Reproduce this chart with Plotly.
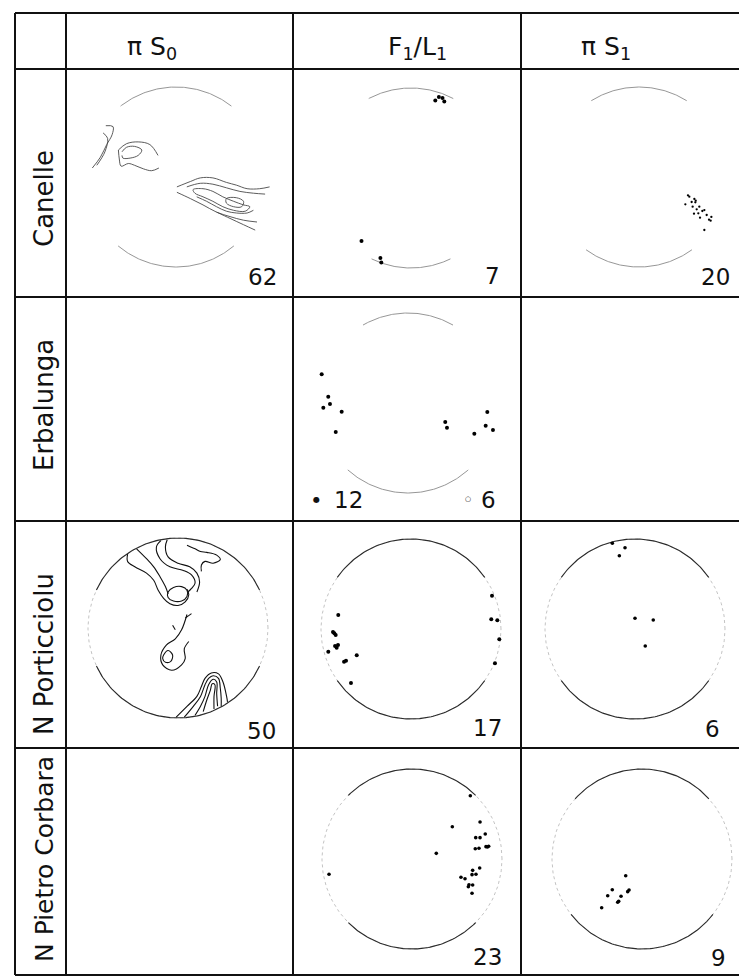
import numpy as np
import plotly.graph_objects as go

W, H = 739, 976
R = 90  # net radius in px

# ---------------- table text ----------------
col_titles = ["π S<sub>0</sub>", "F<sub>1</sub>/L<sub>1</sub>", "π S<sub>1</sub>"]
row_labels = ["Canelle", "Erbalunga", "N Porticciolu", "N Pietro Corbara"]
counts = {(0, 0): "62", (0, 1): "7", (0, 2): "20",
          (2, 0): "50", (2, 1): "17", (2, 2): "6",
          (3, 1): "23", (3, 2): "9"}
erb_filled_n = "12"
erb_open_n = "6"

# ---------------- point data (net coordinates, unit radius) ----------------
canelle_f1_x = [0.27, 0.31, 0.35, 0.37, -0.55, -0.34, -0.33]
canelle_f1_y = [0.86, 0.90, 0.89, 0.85, -0.70, -0.89, -0.94]

canelle_s1_x = [0.544, 0.559, 0.615, 0.630, 0.626, 0.515, 0.596, 0.641, 0.704, 0.726,
                0.611, 0.678, 0.804, 0.778, 0.796, 0.726, 0.585, 0.659, 0.752, 0.670]
canelle_s1_y = [-0.204, -0.219, -0.244, -0.263, -0.281, -0.304, -0.330, -0.359, -0.378, -0.367,
                -0.407, -0.452, -0.444, -0.474, -0.485, -0.589, -0.278, -0.404, -0.422, -0.330]

erbalunga_f1_x = [-0.959, -0.886, -0.867, -0.941, -0.737, -0.803, 0.414, 0.433, 0.737, 0.881, 0.863, 0.944]
erbalunga_f1_y = [0.319, 0.070, -0.011, -0.052, -0.097, -0.322, -0.211, -0.274, -0.341, -0.100, -0.252, -0.300]

porticciolu_f1_x = [-0.808, -0.852, -0.837, -0.844, -0.826, -0.811, -0.919, -0.744, -0.722, -0.603,
                    -0.667, -0.867, 0.900, 0.892, 0.959, 0.981, 0.933]
porticciolu_f1_y = [0.156, -0.048, -0.067, -0.189, -0.208, -0.178, -0.252, -0.363, -0.352, -0.292,
                    -0.600, -0.033, 0.370, 0.108, 0.097, -0.114, -0.381]

porticciolu_s1_x = [-0.252, -0.111, -0.174, 0.000, 0.203, 0.114]
porticciolu_s1_y = [0.952, 0.903, 0.814, 0.119, 0.100, -0.189]

corbara_f1_x = [0.648, 0.756, 0.448, 0.814, 0.708, 0.756, 0.703, 0.744, 0.822, 0.852, 0.839, 0.270,
                -0.922, 0.752, 0.674, 0.711, 0.667, 0.544, 0.589, 0.633, 0.626, 0.674, 0.667]
corbara_f1_y = [0.703, 0.411, 0.359, 0.278, 0.237, 0.237, 0.114, 0.119, 0.137, 0.141, 0.133, 0.063,
                -0.170, -0.100, -0.126, -0.170, -0.174, -0.203, -0.219, -0.286, -0.308, -0.289, -0.381]

corbara_s1_x = [-0.181, -0.330, -0.381, -0.233, -0.159, -0.144, -0.259, -0.270, -0.448]
corbara_s1_y = [-0.186, -0.341, -0.408, -0.414, -0.363, -0.344, -0.470, -0.481, -0.541]

# ---------------- contour lines (net coordinates in % of radius) ----------------
canelle_s0_contours = [
    [(-78, 57), (-70, 56), (-71, 47), (-77, 36), (-84, 22), (-93, 10)],
    [(-81, 49), (-76, 43), (-79, 28), (-88, 13)],
    [(-64, 30), (-55, 37), (-42, 39), (-29, 36), (-20, 24)],
    [(-64, 30), (-63, 20), (-61, 12), (-53, 15), (-46, 13), (-36, 9), (-27, 7), (-19, 10)],
    [(-60, 28), (-55, 33), (-46, 34), (-38, 30), (-42, 24), (-51, 21), (-59, 21), (-60, 24)],
    [(1, -11), (16, -5), (27, -1), (41, -1), (56, -6), (67, -9), (79, -13), (93, -13), (104, -11)],
    [(12, -11), (27, -7), (41, -8), (56, -12), (71, -16), (86, -18), (99, -19)],
    [(19, -14), (30, -13), (41, -16), (52, -22), (64, -27), (75, -31), (82, -33), (77, -38),
     (64, -37), (52, -33), (41, -27), (30, -22), (21, -18), (19, -14)],
    [(56, -24), (67, -23), (75, -27), (73, -33), (64, -33), (56, -29), (56, -24)],
    [(23, -22), (34, -27), (45, -33), (56, -38), (67, -40), (79, -40), (86, -37)],
    [(1, -17), (16, -24), (30, -31), (45, -39), (60, -44), (75, -48), (90, -50)],
    [(45, -39), (60, -46), (75, -53), (88, -59)],
]

porticciolu_s0_contours = [
    [(-56, 82), (-56, 74), (-48, 68), (-35, 61), (-27, 53), (-22, 42), (-16, 33), (-9, 27),
     (0, 25), (8, 29), (12, 37), (10, 43)],
    [(-46, 88), (-35, 77), (-27, 68), (-20, 57), (-14, 46), (-11, 38)],
    [(-11, 40), (-5, 45), (4, 46), (10, 42), (10, 35), (4, 30), (-5, 30), (-11, 34), (-11, 40)],
    [(-19, 97), (-24, 90), (-20, 77), (-9, 68), (6, 64), (15, 59), (19, 50), (15, 44), (11, 40)],
    [(-12, 98), (-14, 90), (-11, 79), (0, 72), (13, 68), (21, 61), (24, 51), (21, 40)],
    [(10, 92), (19, 88), (25, 85), (32, 84), (43, 81), (47, 76), (39, 72), (30, 74), (26, 70), (26, 63)],
    [(10, 15), (4, -2), (-3, -12), (-13, -19), (-19, -30), (-17, -41), (-7, -47), (4, -41),
     (8, -34), (7, -23), (12, -15)],
    [(-16, -30), (-11, -25), (-6, -30), (-8, -37), (-14, -38), (-17, -34), (-16, -30)],
    [(-6, 3), (-3, -2)],
    [(15, 16), (8, 11)],
    [(-2, -99), (10, -87), (21, -76), (26, -65), (30, -56), (37, -50), (45, -51), (50, -60),
     (54, -76), (55, -82)],
    [(7, -99), (17, -87), (25, -76), (30, -63), (34, -56), (39, -53), (45, -56), (47, -67),
     (48, -78), (48, -87)],
    [(19, -97), (25, -87), (30, -76), (34, -63), (39, -57), (43, -60), (43, -73), (44, -87)],
    [(28, -93), (32, -80), (36, -69), (38, -62), (41, -63), (40, -76), (40, -90)],
]

# ---------------- layout geometry ----------------
GX = [15, 66, 293, 521, 749]
GY = [13, 69, 297, 521, 748, 975]

cells = [(0, 0), (0, 1), (0, 2), (1, 1), (2, 0), (2, 1), (2, 2), (3, 1), (3, 2)]
centers = {(0, 0): (176, 177), (0, 1): (411, 178), (0, 2): (639, 177), (1, 1): (408, 403),
           (2, 0): (178, 628), (2, 1): (411, 629), (2, 2): (635, 629),
           (3, 1): (412, 859), (3, 2): (642, 859)}
# (dark half-width top arc, dark half-width bottom arc, faint full circle)
arcs = {(0, 0): (38, 40, False), (0, 1): (28, 26, False), (0, 2): (32, 36, False),
        (1, 1): (30, 42, False), (2, 0): (65, 65, True), (2, 1): (55, 55, True),
        (2, 2): (55, 55, True), (3, 1): (45, 45, True), (3, 2): (48, 52, True)}

fig = go.Figure()
layout = {}
refs = {}
for k, (i, j) in enumerate(cells, start=1):
    cx, cy = centers[(i, j)]
    x0, x1 = GX[j + 1], min(GX[j + 2], W)
    y0, y1 = GY[i + 1], GY[i + 2]
    sx = "" if k == 1 else str(k)
    layout["xaxis" + sx] = dict(domain=[x0 / W, x1 / W], range=[(x0 - cx) / R, (x1 - cx) / R],
                                visible=False, fixedrange=True, anchor="y" + sx)
    layout["yaxis" + sx] = dict(domain=[1 - y1 / H, 1 - y0 / H], range=[(cy - y1) / R, (cy - y0) / R],
                                visible=False, fixedrange=True, anchor="x" + sx)
    refs[(i, j)] = ("x" + sx, "y" + sx)


def arc(t0, t1, n=90):
    t = np.radians(np.linspace(t0, t1, n))
    return np.cos(t), np.sin(t)


for (i, j) in cells:
    xr, yr = refs[(i, j)]
    ht, hb, faint = arcs[(i, j)]
    dark = "#8a8a8a" if i < 2 else "#2a2a2a"
    wdt = 0.9 if i < 2 else 1.1
    if faint:
        cxs, cys = arc(0, 360, 240)
        fig.add_trace(go.Scatter(x=cxs, y=cys, mode="lines", xaxis=xr, yaxis=yr,
                                 line=dict(color="#c4c4c4", width=1, dash="dot"), hoverinfo="skip"))
    for (a0, a1) in [(90 - ht, 90 + ht), (270 - hb, 270 + hb)]:
        ax_, ay_ = arc(a0, a1)
        fig.add_trace(go.Scatter(x=ax_, y=ay_, mode="lines", xaxis=xr, yaxis=yr,
                                 line=dict(color=dark, width=wdt), hoverinfo="skip"))


def add_contours(cell, contours, color, width):
    xr, yr = refs[cell]
    for c in contours:
        fig.add_trace(go.Scatter(x=[p[0] / 100 for p in c], y=[p[1] / 100 for p in c],
                                 mode="lines", xaxis=xr, yaxis=yr,
                                 line=dict(color=color, width=width, shape="spline", smoothing=1.0),
                                 hoverinfo="skip"))


add_contours((0, 0), canelle_s0_contours, "#4a4a4a", 0.9)
add_contours((2, 0), porticciolu_s0_contours, "#111111", 1.1)


def add_points(cell, xs, ys, size):
    xr, yr = refs[cell]
    fig.add_trace(go.Scatter(x=xs, y=ys, mode="markers", xaxis=xr, yaxis=yr,
                             marker=dict(color="black", size=size, line=dict(width=0))))


add_points((0, 1), canelle_f1_x, canelle_f1_y, 4)
add_points((0, 2), canelle_s1_x, canelle_s1_y, 2.3)
add_points((1, 1), erbalunga_f1_x, erbalunga_f1_y, 4)
add_points((2, 1), porticciolu_f1_x, porticciolu_f1_y, 4)
add_points((2, 2), porticciolu_s1_x, porticciolu_s1_y, 3.6)
add_points((3, 1), corbara_f1_x, corbara_f1_y, 3.6)
add_points((3, 2), corbara_s1_x, corbara_s1_y, 3.6)

# ---------------- grid lines ----------------
shapes = []
for gy in GY:
    shapes.append(dict(type="line", xref="paper", yref="paper", x0=GX[0] / W, x1=1,
                       y0=1 - gy / H, y1=1 - gy / H, line=dict(color="#111111", width=2)))
for gx in GX[:4]:
    shapes.append(dict(type="line", xref="paper", yref="paper", x0=gx / W, x1=gx / W,
                       y0=1 - GY[0] / H, y1=1 - GY[-1] / H, line=dict(color="#111111", width=2)))

# ---------------- text ----------------
FONT = "DejaVu Sans"
ann = []
title_x = [152, 418, 606]
for t, tx in zip(col_titles, title_x):
    ann.append(dict(text=t, x=tx / W, y=1 - 48 / H, xref="paper", yref="paper",
                    xanchor="center", yanchor="middle", showarrow=False,
                    font=dict(family=FONT, size=25, color="#111")))
label_y = [199, 405, 654, 859]
label_size = [26, 26, 26, 25]
for t, ly, ls in zip(row_labels, label_y, label_size):
    ann.append(dict(text=t, x=44 / W, y=1 - ly / H, xref="paper", yref="paper",
                    xanchor="center", yanchor="middle", textangle=-90, showarrow=False,
                    font=dict(family=FONT, size=ls, color="#111")))
count_pos = {(0, 0): (279, 277), (0, 1): (502, 276), (0, 2): (732, 277),
             (2, 0): (278, 731), (2, 1): (504, 728), (2, 2): (722, 729),
             (3, 1): (504, 957), (3, 2): (728, 958)}
for cell, txt in counts.items():
    px, py = count_pos[cell]
    ann.append(dict(text=txt, x=px / W, y=1 - py / H, xref="paper", yref="paper",
                    xanchor="right", yanchor="middle", showarrow=False,
                    font=dict(family=FONT, size=23, color="#111")))
# Erbalunga legend
ann.append(dict(text="●", x=316 / W, y=1 - 500 / H, xref="paper", yref="paper",
                xanchor="center", yanchor="middle", showarrow=False,
                font=dict(family=FONT, size=8, color="#111")))
ann.append(dict(text=erb_filled_n, x=332 / W, y=1 - 500 / H, xref="paper", yref="paper",
                xanchor="left", yanchor="middle", showarrow=False,
                font=dict(family=FONT, size=23, color="#111")))
ann.append(dict(text="○", x=468 / W, y=1 - 499 / H, xref="paper", yref="paper",
                xanchor="center", yanchor="middle", showarrow=False,
                font=dict(family=FONT, size=7, color="#111")))
ann.append(dict(text=erb_open_n, x=479 / W, y=1 - 500 / H, xref="paper", yref="paper",
                xanchor="left", yanchor="middle", showarrow=False,
                font=dict(family=FONT, size=23, color="#111")))

fig.update_layout(width=W, height=H, margin=dict(l=0, r=0, t=0, b=0),
                  paper_bgcolor="white", plot_bgcolor="white", showlegend=False,
                  shapes=shapes, annotations=ann, **layout)

# remove the default 8px page margin so figure pixels map onto the window
fig.write_html("out.html", config={"displayModeBar": False, "staticPlot": True},
               post_script="document.body.style.margin='0px';document.body.style.overflow='hidden';")
